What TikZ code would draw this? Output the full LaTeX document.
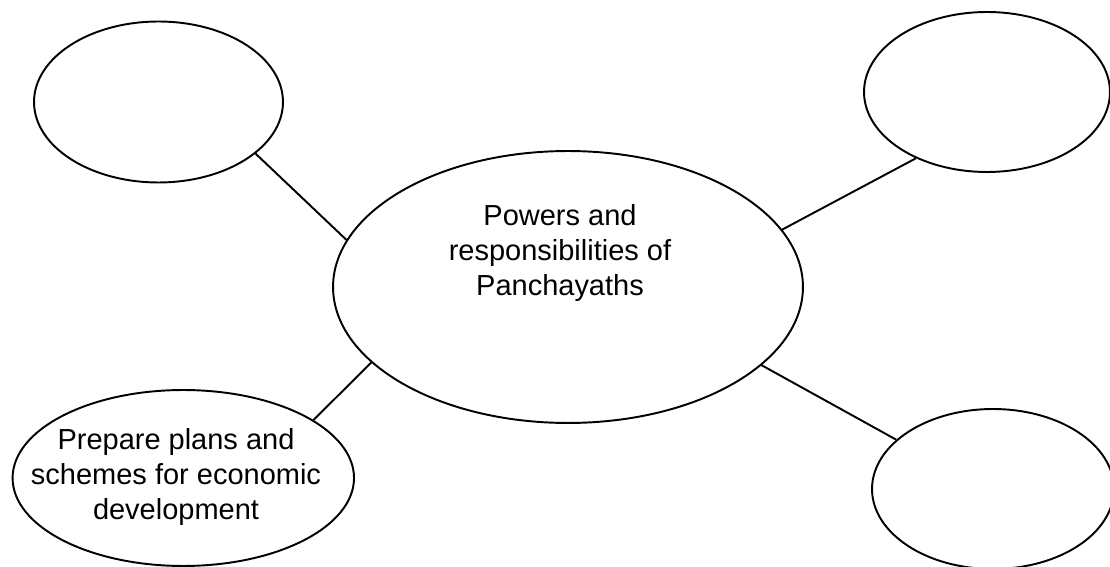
\documentclass[tikz,border=0pt]{standalone}
\usepackage{fontspec}
\setmainfont{Liberation Sans}
\usetikzlibrary{shapes.geometric}
\tikzset{
  bubble/.style={draw, ellipse, line width=1.1pt, inner sep=0pt},
  txt/.style={align=center, font=\fontsize{16.5}{19.9}\selectfont},
  link/.style={line width=1.1pt}
}
\begin{document}
\begin{tikzpicture}[x=0.02cm,y=-0.02cm]
				\useasboundingbox (0,0) rectangle (1110,567);
				\node[bubble, minimum width=9.4cm, minimum height=5.44cm] (P) at (568,287) {};
				\node[txt] (Ptext) at (560,253) {Powers and\\responsibilities of\\Panchayaths};
				\node[bubble, minimum width=4.98cm, minimum height=3.22cm] (TL) at (158.5,102) {};
				\node[bubble, minimum width=4.92cm, minimum height=3.2cm] (TR) at (987,92) {};
				\node[bubble, minimum width=6.83cm, minimum height=3.52cm] (BL) at (183.3,478) {};
				\node[txt] (BLtext) at (176,477) {Prepare plans and\\schemes for economic\\development};
				\node[bubble, minimum width=4.84cm, minimum height=3.2cm] (BR) at (993,489) {};
				\draw[link] (P.168.6)--(TL.332.5) (P.15.4)--(TR.223.3);
				\draw[link] (P.201.4)--(BL.24) (P.338.7)--(BR.153.3);
	\end{tikzpicture}
\end{document}
